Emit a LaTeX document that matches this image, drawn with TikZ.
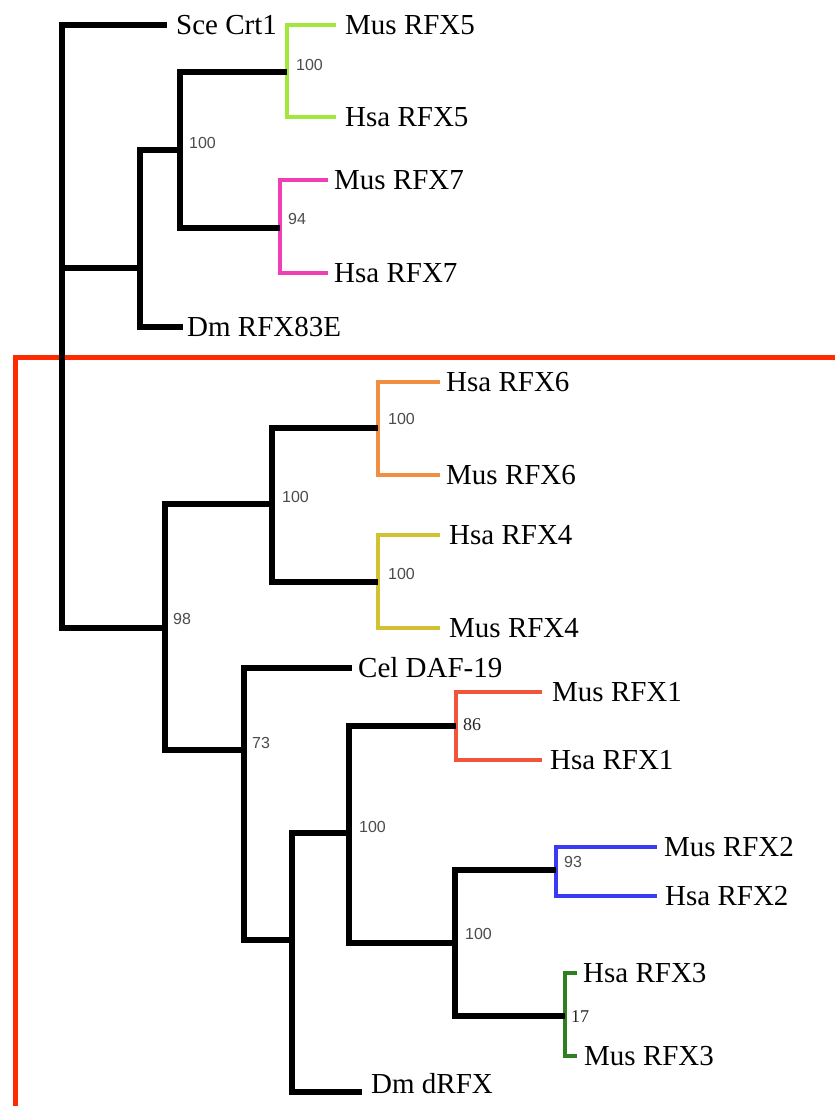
\documentclass[tikz,border=0pt]{standalone}
\usepackage{fontspec}
\setmainfont{Liberation Serif}
\newfontfamily\labsans{Liberation Sans}
\definecolor{cGreenL}{HTML}{A2E63E}
\definecolor{cMag}{HTML}{F03EB4}
\definecolor{cOrange}{HTML}{F28E42}
\definecolor{cYellow}{HTML}{D2C232}
\definecolor{cRed}{HTML}{F0553C}
\definecolor{cBlue}{HTML}{3A3AF2}
\definecolor{cGreenD}{HTML}{2F7F20}
\definecolor{cFrame}{HTML}{FF2A00}
\begin{document}
\begin{tikzpicture}[x=1pt,y=-1pt,
  br/.style={line width=6pt,black},
  cbr/.style={line width=4.5pt},
  leaf/.style={anchor=west,inner sep=0pt,font=\fontsize{29}{31}\selectfont},
  bs/.style={anchor=west,inner sep=0pt,font=\labsans\fontsize{16}{18}\selectfont,text=black!70},
  bss/.style={anchor=west,inner sep=0pt,font=\fontsize{18}{20}\selectfont,text=black!85}]
\useasboundingbox (0,0) rectangle (835,1106);
\fill[white] (0,0) rectangle (835,1106);
% red frame
\draw[cFrame,line width=5pt] (15,1115) -- (15,357) -- (845,357);

% internal nodes
\coordinate (root) at (62,268);
\coordinate (n83) at (140,268);
\coordinate (n57) at (180,150);
\coordinate (n5) at (287,72);
\coordinate (n7) at (280,228);
\coordinate (n98) at (165,628);
\coordinate (n64) at (272,504);
\coordinate (n6) at (378,428);
\coordinate (n4) at (378,582);
\coordinate (n73) at (244,750);
\coordinate (nD) at (292,940);
\coordinate (n123) at (349,833);
\coordinate (n1) at (456,726);
\coordinate (n23) at (455,943);
\coordinate (n2) at (556,870);
\coordinate (n3) at (565,1016);

% leaf tips
\coordinate (tSce) at (167,25);
\coordinate (tMus5) at (336,25);
\coordinate (tHsa5) at (336,117);
\coordinate (tMus7) at (328,180);
\coordinate (tHsa7) at (328,273);
\coordinate (tDm83) at (183,327);
\coordinate (tHsa6) at (440,382);
\coordinate (tMus6) at (440,475);
\coordinate (tHsa4) at (440,535);
\coordinate (tMus4) at (440,628);
\coordinate (tCel) at (352,668);
\coordinate (tMus1) at (542,692);
\coordinate (tHsa1) at (542,760);
\coordinate (tMus2) at (657,847);
\coordinate (tHsa2) at (657,896);
\coordinate (tHsa3) at (577,973);
\coordinate (tMus3) at (577,1056);
\coordinate (tDmd) at (362,1092);

% leaf labels
\node[leaf] (Sce) at ([xshift=9]tSce) {Sce Crt1};
\node[leaf] (Mus5) at ([xshift=9]tMus5) {Mus RFX5};
\node[leaf] (Hsa5) at ([xshift=9]tHsa5) {Hsa RFX5};
\node[leaf] (Mus7) at ([xshift=6]tMus7) {Mus RFX7};
\node[leaf] (Hsa7) at ([xshift=6]tHsa7) {Hsa RFX7};
\node[leaf] (Dm83) at ([xshift=4]tDm83) {Dm RFX83E};
\node[leaf] (Hsa6) at ([xshift=6]tHsa6) {Hsa RFX6};
\node[leaf] (Mus6) at ([xshift=6]tMus6) {Mus RFX6};
\node[leaf] (Hsa4) at ([xshift=9]tHsa4) {Hsa RFX4};
\node[leaf] (Mus4) at ([xshift=9]tMus4) {Mus RFX4};
\node[leaf] (Cel) at ([xshift=6]tCel) {Cel DAF-19};
\node[leaf] (Mus1) at ([xshift=10]tMus1) {Mus RFX1};
\node[leaf] (Hsa1) at ([xshift=8]tHsa1) {Hsa RFX1};
\node[leaf] (Mus2) at ([xshift=7]tMus2) {Mus RFX2};
\node[leaf] (Hsa2) at ([xshift=8]tHsa2) {Hsa RFX2};
\node[leaf] (Hsa3) at ([xshift=6]tHsa3) {Hsa RFX3};
\node[leaf] (Mus3) at ([xshift=7]tMus3) {Mus RFX3};
\node[leaf] (Dmd) at ([xshift=9,yshift=8]tDmd) {Dm dRFX};

% coloured clades
\draw[cbr,cGreenL] (n5) |- (tMus5);
\draw[cbr,cGreenL] (n5) |- (tHsa5);
\draw[cbr,cMag] (n7) |- (tMus7);
\draw[cbr,cMag] (n7) |- (tHsa7);
\draw[cbr,cOrange] (n6) |- (tHsa6);
\draw[cbr,cOrange] (n6) |- (tMus6);
\draw[cbr,cYellow] (n4) |- (tHsa4);
\draw[cbr,cYellow] (n4) |- (tMus4);
\draw[cbr,cRed] (n1) |- (tMus1);
\draw[cbr,cRed] (n1) |- (tHsa1);
\draw[cbr,cBlue] (n2) |- (tMus2);
\draw[cbr,cBlue] (n2) |- (tHsa2);
\draw[cbr,cGreenD] (n3) |- (tHsa3);
\draw[cbr,cGreenD] (n3) |- (tMus3);

% black backbone
\draw[br] (root) |- (tSce);
\draw[br] (root) |- (n83);
\draw[br] (root) |- (n98);
\draw[br] (n83) |- (n57);
\draw[br] (n83) |- (tDm83);
\draw[br] (n57) |- (n5);
\draw[br] (n57) |- (n7);
\draw[br] (n98) |- (n64);
\draw[br] (n98) |- (n73);
\draw[br] (n64) |- (n6);
\draw[br] (n64) |- (n4);
\draw[br] (n73) |- (tCel);
\draw[br] (n73) |- (nD);
\draw[br] (nD) |- (n123);
\draw[br] (nD) |- (tDmd);
\draw[br] (n123) |- (n1);
\draw[br] (n123) |- (n23);
\draw[br] (n23) |- (n2);
\draw[br] (n23) |- (n3);

% bootstrap values
\node[bs] (b5) at (296,65) {100};
\node[bs] (b57) at (189,143) {100};
\node[bs] (b7) at (288,219) {94};
\node[bs] (b6) at (388,419) {100};
\node[bs] (b64) at (282,497) {100};
\node[bs] (b4) at (388,574) {100};
\node[bs] (b98) at (173,619) {98};
\node[bs] (b73) at (252,743) {73};
\node[bss] (b1) at (463,725) {86};
\node[bs] (b123) at (359,827) {100};
\node[bs] (b2) at (564,862) {93};
\node[bs] (b23) at (465,934) {100};
\node[bss] (b3) at (571,1017) {17};
\end{tikzpicture}
\end{document}
